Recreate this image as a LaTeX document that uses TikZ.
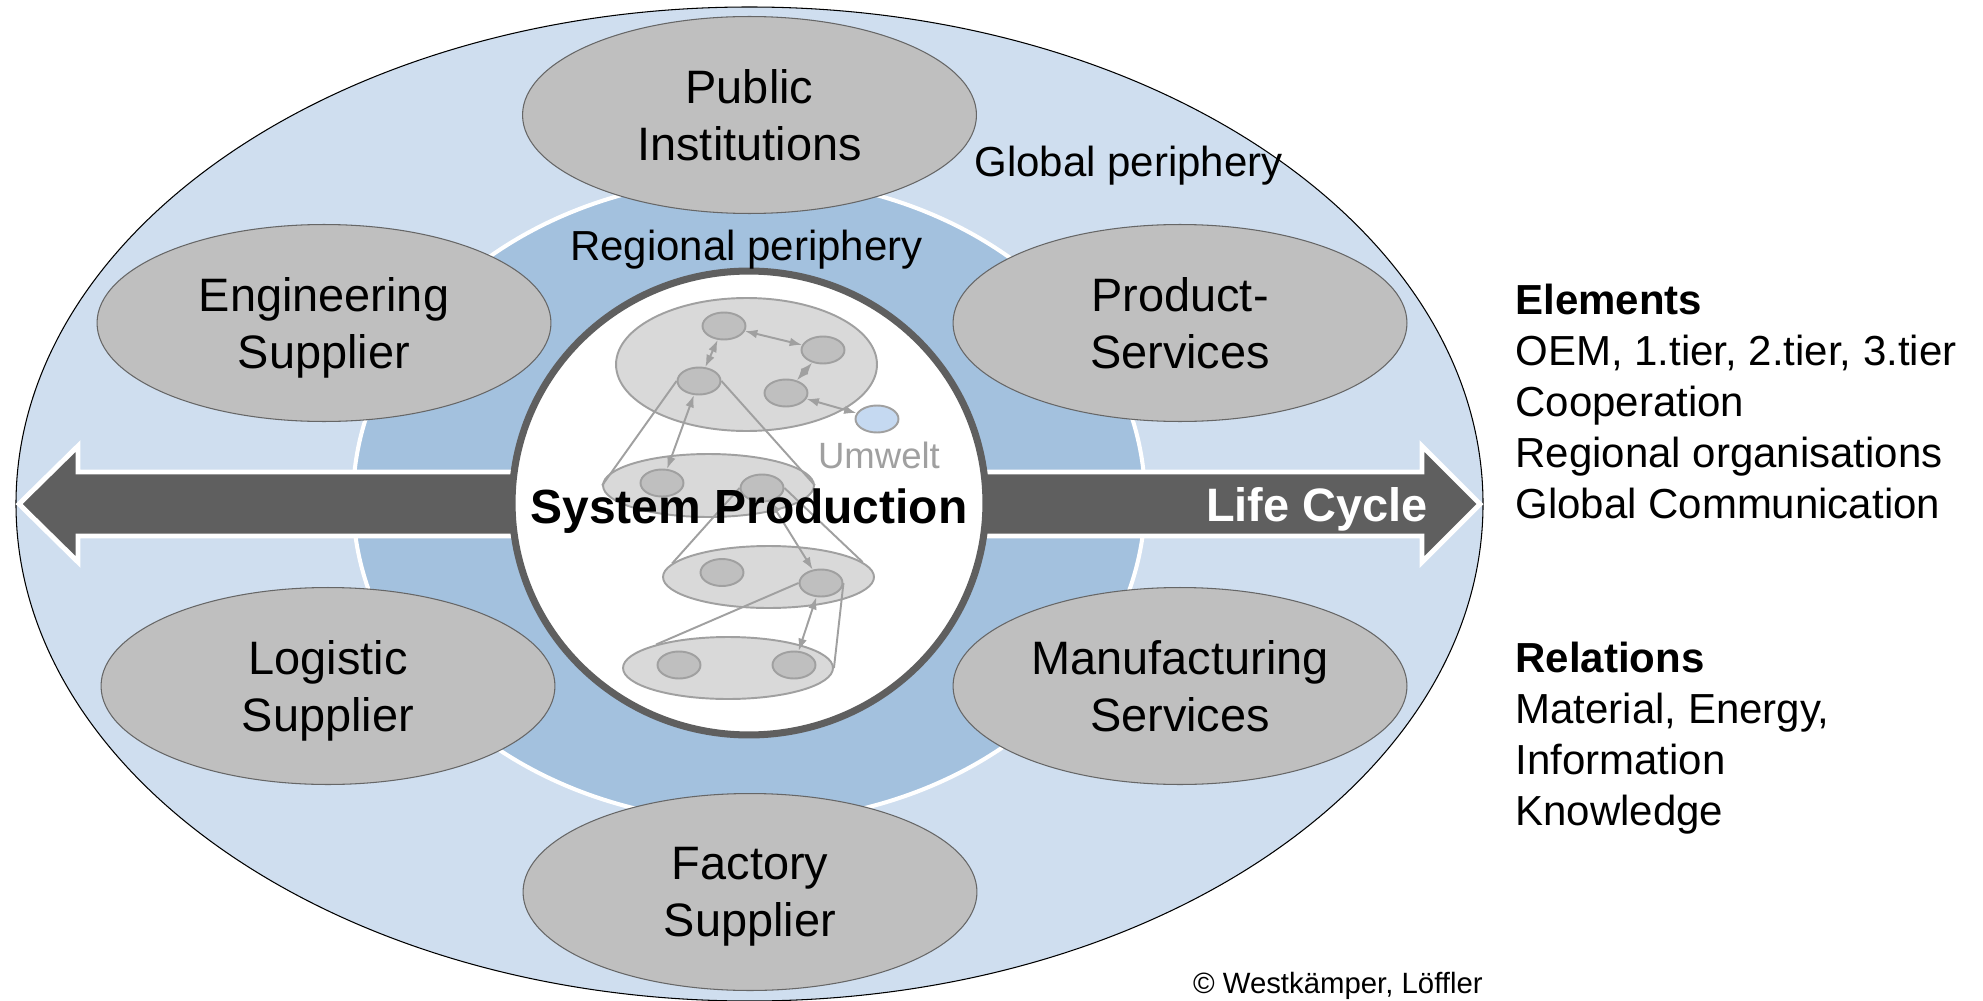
\documentclass[tikz,border=0pt]{standalone}
\usepackage{fontspec}
\setmainfont{Liberation Sans}
\usetikzlibrary{shapes.geometric,arrows.meta}

\definecolor{globalblue}{RGB}{207,222,239}
\definecolor{regionblue}{RGB}{163,193,222}
\definecolor{partnergray}{RGB}{191,191,191}
\definecolor{arrowgray}{RGB}{95,95,95}
\definecolor{layergray}{RGB}{217,217,217}
\definecolor{linegray}{RGB}{160,160,160}
\definecolor{envblue}{RGB}{197,217,241}

\tikzset{
  partner/.style={ellipse, draw=black!60, line width=0.6pt, fill=partnergray,
    minimum width=9.08cm, minimum height=3.94cm, inner sep=0pt, align=center,
    text depth=0pt, font=\fontsize{26.7}{32.4}\selectfont},
  layer/.style={ellipse, draw=linegray, line width=1.1pt, fill=layergray, inner sep=0pt},
  unit/.style={ellipse, draw=linegray, line width=1.1pt, fill=partnergray,
    minimum width=0.86cm, minimum height=0.54cm, inner sep=0pt},
  link/.style={linegray, line width=1.1pt, {Latex[length=7pt,width=5pt]}-{Latex[length=7pt,width=5pt]}},
  cone/.style={linegray, line width=1.1pt},
  label/.style={inner sep=0pt, font=\fontsize{23.9}{29}\selectfont},
  sidetext/.style={label, anchor=base west, align=left}
}

\begin{document}
\begin{tikzpicture}[x=0.02cm, y=-0.02cm]
    \useasboundingbox (0,0) rectangle (1983,1000);
    % Global and regional periphery
    \draw[fill=globalblue, line width=0.6pt] (749.5,504) ellipse [x radius=733.5, y radius=497];
    \draw[fill=regionblue, draw=white, line width=2.3pt] (749,500) ellipse [x radius=396, y radius=322];

    % Life cycle arrow
    \draw[fill=arrowgray, draw=white, line width=2.8pt]
      (19,504) -- (78,446) -- (78,472) -- (1422,472) -- (1422,446) -- (1480,504)
      -- (1422,562) -- (1422,536) -- (78,536) -- (78,562) -- cycle;

    % Partners
    \node[partner] (pub) at (749.5,115) {Public\\Institutions};
    \node[partner] (eng) at (324,323) {Engineering\\Supplier};
    \node[partner] (prod) at (1180,323) {Product-\\Services};
    \node[partner] (logi) at (328,686) {Logistic\\Supplier};
    \node[partner] (manu) at (1180,686) {Manufacturing\\Services};
    \node[partner] (fact) at (750,892) {Factory\\Supplier};

    % System production
    \node[ellipse, draw=arrowgray, line width=4pt, fill=white, inner sep=0pt,
      minimum width=9.48cm, minimum height=9.28cm] (core) at (749,503) {};

    \node[layer, minimum width=5.22cm, minimum height=2.66cm] (layA) at (746.5,364.5) {};
    \node[layer, minimum width=4.22cm, minimum height=1.26cm] (layB) at (708.5,485.5) {};
    \node[layer, minimum width=4.22cm, minimum height=1.24cm] (layC) at (768.5,577) {};
    \node[layer, minimum width=4.2cm, minimum height=1.24cm] (layD) at (728,668) {};

    \node[unit] (a1) at (724,326) {};
    \node[unit] (a2) at (823,350) {};
    \node[unit] (a3) at (699,381) {};
    \node[unit] (a4) at (786,393) {};
    \node[unit, fill=envblue] (env) at (877,419) {};
    \node[unit] (b1) at (662,483) {};
    \node[unit] (b2) at (762,488) {};
    \node[unit] (c1) at (722,572.5) {};
    \node[unit] (c2) at (821,583) {};
    \node[unit] (d1) at (679,665) {};
    \node[unit] (d2) at (794,665) {};

    \draw[link] (a1) -- (a2);
    \draw[link] (a1) -- (a3);
    \draw[link] (a2) -- (a4);
    \draw[link] (a4) -- (env);
    \draw[link] (a3) -- (b1);
    \draw[link] (b2) -- (c2);
    \draw[link] (c2) -- (d2);

    \draw[cone] (a3.west) -- (layB.west);
    \draw[cone] (a3.east) -- (layB.east);
    \draw[cone] (b2.west) -- (layC.172);
    \draw[cone] (b2.east) -- (layC.9);
    \draw[cone] (c2.west) -- (layD.162);
    \draw[cone] (c2.east) -- (layD.east);

    % Labels
    \node[inner sep=0pt, anchor=base, font=\fontsize{27.3}{32}\selectfont\bfseries] (sysprod) at (749,523) {System Production};
    \node[inner sep=0pt, anchor=base, text=linegray, font=\fontsize{20.8}{25}\selectfont] (umwelt) at (879,468) {Umwelt};
    \node[inner sep=0pt, anchor=base, text=white, font=\fontsize{26.7}{32}\selectfont\bfseries] (life) at (1317,521) {Life Cycle};
    \node[label, anchor=base west] (glob) at (974,177) {Global periphery};
    \node[label, anchor=base] (reg) at (746.5,260) {Regional periphery};
    \node[sidetext] (elem) at (1515,518) {\textbf{Elements}\\OEM, 1.tier, 2.tier, 3.tier\\Cooperation\\Regional organisations\\Global Communication};
    \node[sidetext] (rel) at (1515,825) {\textbf{Relations}\\Material, Energy,\\Information\\Knowledge};
    \node[inner sep=0pt, anchor=base east, font=\fontsize{16.7}{20}\selectfont] (copy) at (1483,993) {© Westkämper, Löffler};
\end{tikzpicture}
\end{document}
